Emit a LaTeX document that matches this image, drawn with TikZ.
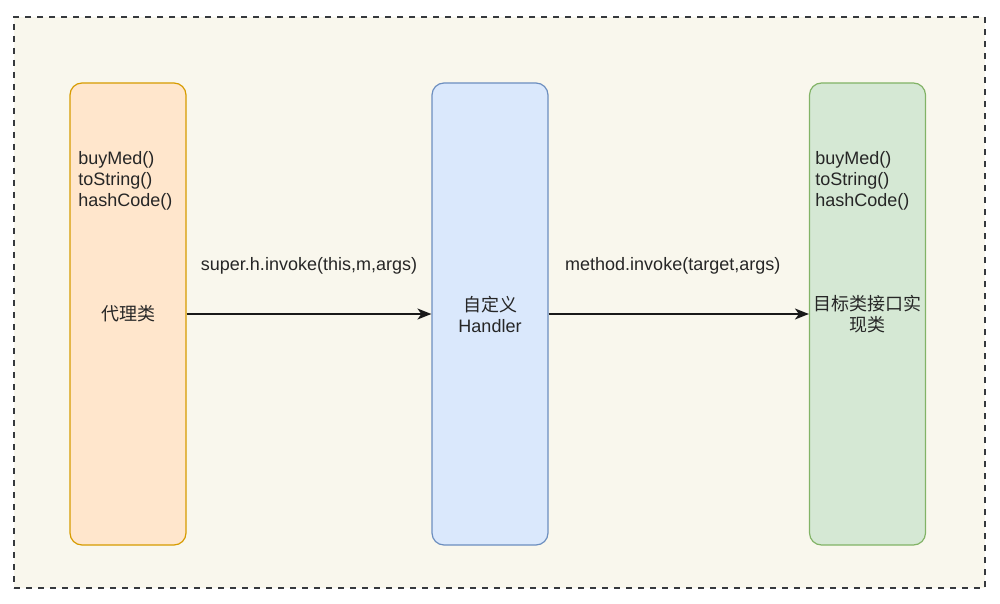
\documentclass[tikz,border=0pt]{standalone}
\usepackage{fontspec}
\setmainfont{Liberation Sans}
\newfontfamily\cjk{Noto Sans CJK SC}
\usetikzlibrary{arrows.meta,positioning,calc}

\definecolor{bgfill}{HTML}{F9F7ED}  \definecolor{bgline}{HTML}{36393D}
\definecolor{pxfill}{HTML}{FFE6CC}  \definecolor{pxline}{HTML}{D79B00}
\definecolor{hdfill}{HTML}{DAE8FC}  \definecolor{hdline}{HTML}{6C8EBF}
\definecolor{tgfill}{HTML}{D5E8D4}  \definecolor{tgline}{HTML}{82B366}

\begin{document}
\begin{tikzpicture}[
    x=0.5pt, y=-0.5pt,
    font=\fontsize{9}{10.5}\selectfont,
    >={Stealth[length=7pt,width=5.5pt,inset=2pt]},
    col/.style={draw,line width=0.6pt,rounded corners=6pt,minimum width=58pt,minimum height=231pt,align=center,text=black!85,inner sep=1pt},
    meth/.style={anchor=west,align=left,inner sep=0pt,text=black!85},
    flow/.style={->,line width=0.8pt,draw=black!90},
    lbl/.style={inner sep=1pt,text=black!85,yshift=24pt},
]
\useasboundingbox (0,0) rectangle (1000,604);

% ===== frame =====
\node[draw=bgline,fill=bgfill,dashed,line width=0.6pt,minimum width=485.5pt,minimum height=285.5pt,inner sep=0pt] (frame) at (499.5,302.5) {};

% ===== the three columns =====
\node[col,draw=pxline,fill=pxfill] (proxy) at (128,314) {\cjk 代理类};
\node[col,draw=hdline,fill=hdfill] (handler) at (490,314) {{\cjk 自定义}\\Handler};
\node[col,draw=tgline,fill=tgfill,text width=56pt] (target) at (867.5,314) {\cjk 目标类接口实\\现类};

\node[meth] (proxyM) at (78,181) {buyMed()\\toString()\\hashCode()};
\node[meth] (targetM) at (815,181) {buyMed()\\toString()\\hashCode()};

% ===== calls =====
\draw[flow] (proxy) -- node[lbl] (callA) {super.h.invoke(this,m,args)} (handler);
\draw[flow] (handler) -- node[lbl,xshift=-3pt] (callB) {method.invoke(target,args)} (target);

\end{tikzpicture}
\end{document}
